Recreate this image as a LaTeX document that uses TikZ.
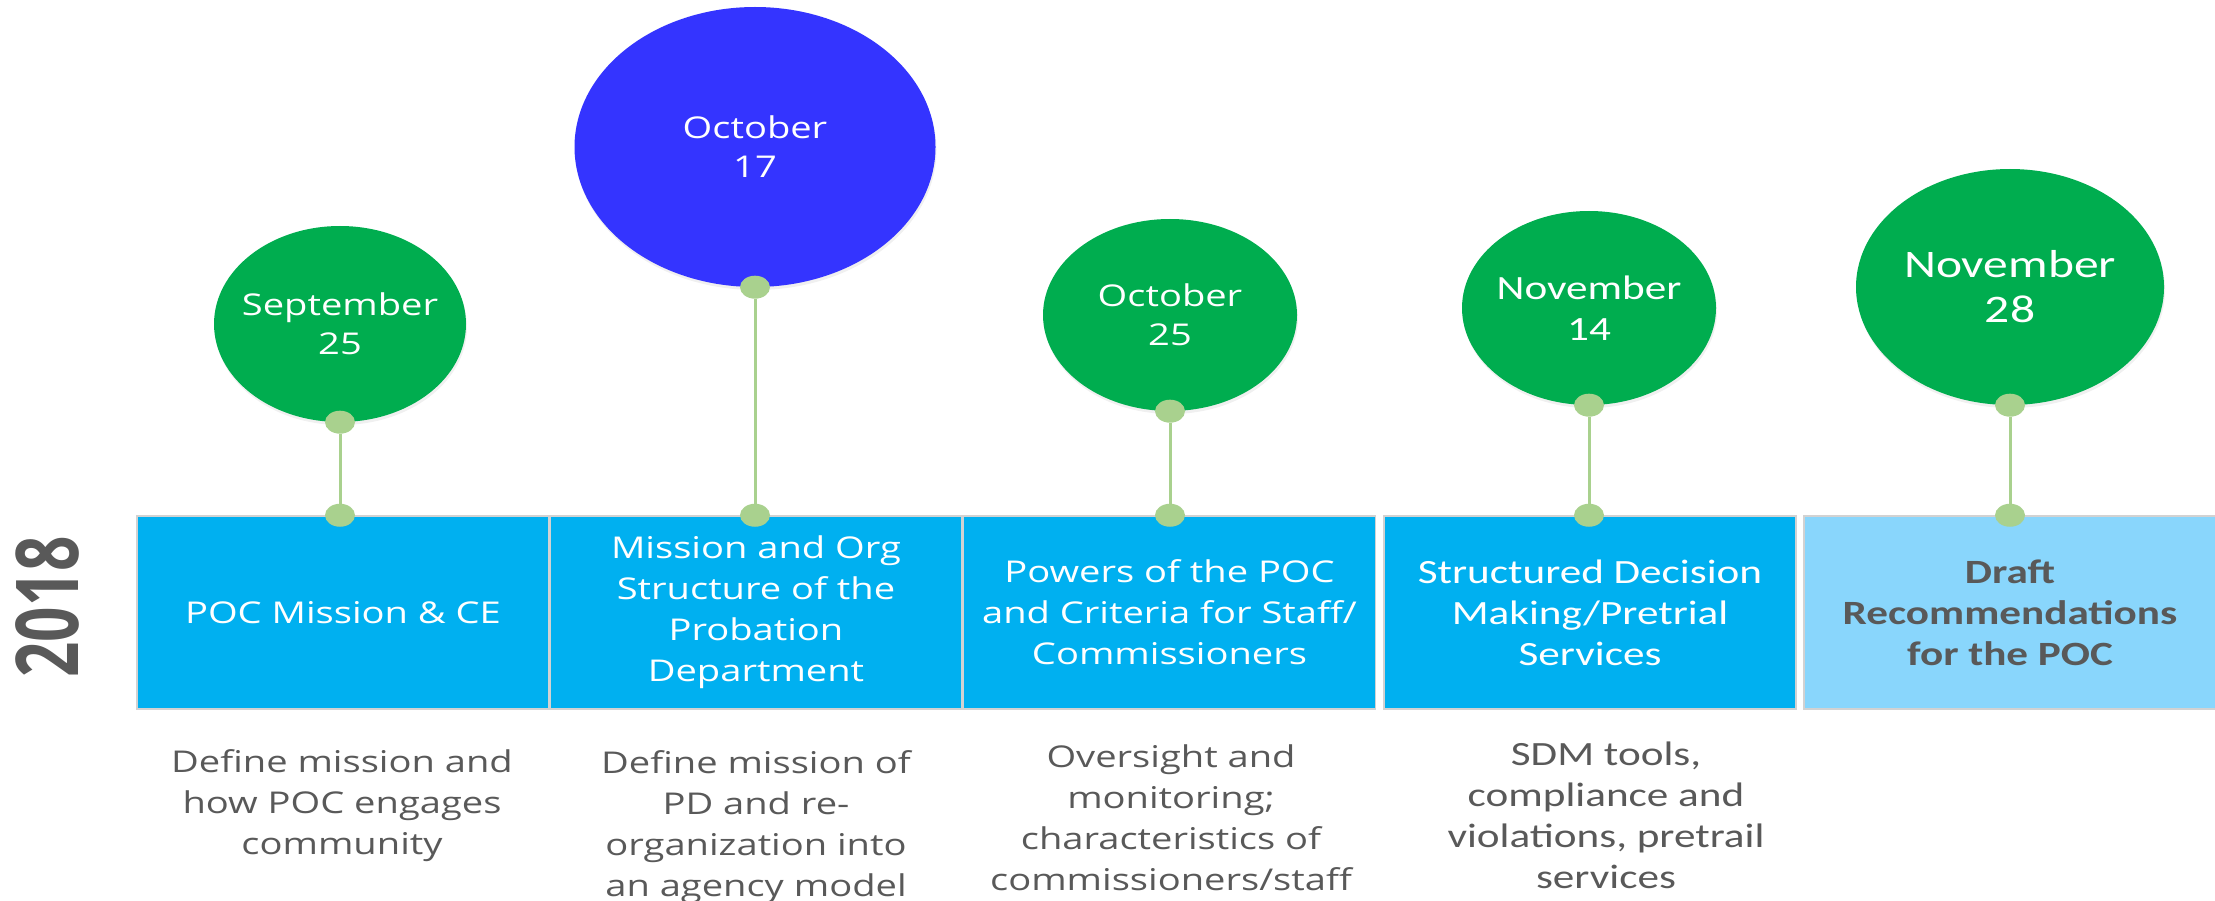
\documentclass[tikz,border=0pt]{standalone}
\usepackage{fontspec}
\usepackage{xcolor}
\usepackage{tikz}
\usetikzlibrary{shapes,positioning,calc,shadows}
\newfontfamily\osfont{Open Sans}[FakeStretch=1.27]
\newfontfamily\cbfont{Carlito}[FakeStretch=1.27]
\newfontfamily\yearfont{Open Sans}
\definecolor{dategreen}{HTML}{00AD4F}
\definecolor{dateblue}{HTML}{3434FF}
\definecolor{topicblue}{HTML}{00B0F0}
\definecolor{draftblue}{HTML}{89D6FC}
\definecolor{pingreen}{HTML}{A9D18E}
\definecolor{textgray}{HTML}{595959}
\tikzstyle{date} = [ellipse, fill=dategreen, inner sep=0pt, drop shadow={shadow xshift=1pt, shadow yshift=-3pt, opacity=0.12}]
\tikzstyle{datetext} = [text=white, align=center, font=\osfont\fontsize{30}{39}\selectfont]
\tikzstyle{topic} = [rectangle, fill=topicblue, draw=gray!35, line width=1.5pt, text=white, align=center, minimum width=412pt, minimum height=193pt, inner sep=0pt, font=\osfont\fontsize{30}{41}\selectfont]
\tikzstyle{note} = [align=center, text=textgray, font=\osfont\fontsize{30}{41}\selectfont]
\tikzstyle{cb} = [font=\cbfont\fontsize{34}{41}\selectfont]
\tikzstyle{pin} = [ellipse, fill=pingreen, minimum width=30pt, minimum height=23pt, inner sep=0pt]
\tikzstyle{stem} = [draw=pingreen, line width=3pt]

\begin{document}
\begin{tikzpicture}[x=1pt, y=-1pt]
    \useasboundingbox (0,0) rectangle (2215,901);
    % Year
    \node[rotate=90, text=textgray] (year) at (47,607) {\scalebox{1}[1.4]{\yearfont\bfseries\fontsize{62}{62}\selectfont 2018}};

    % Topics
    \node[topic] (poc) at (343,612.5) {POC Mission \& CE};
    \node[topic] (org) at (756,612.5) {Mission and Org\\Structure of the\\Probation\\Department};
    \node[topic] (powers) at (1169.5,612.5) {Powers of the POC\\and Criteria for Staff/\\Commissioners};
    \node[topic, cb] (sdm) at (1590,612.5) {Structured Decision\\Making/Pretrial\\Services};
    \node[topic, cb, fill=draftblue, text=textgray] (draft) at (2010,612.5) {\bfseries Draft\\\bfseries Recommendations\\\bfseries for the POC};

    % Dates
    \node[date, minimum width=252pt, minimum height=196pt, label={[datetext]center:{September\\25}}] (sep25) at (340,324) {};
    \node[date, fill=dateblue, minimum width=361pt, minimum height=280pt, label={[datetext]center:{October\\17}}] (oct17) at (755,147) {};
    \node[date, minimum width=254pt, minimum height=192pt, label={[datetext]center:{October\\25}}] (oct25) at (1170,315) {};
    \node[date, minimum width=254pt, minimum height=194pt, label={[datetext, cb]center:{November\\14}}] (nov14) at (1589,308) {};
    \node[date, minimum width=308pt, minimum height=236pt, label={[datetext, font=\cbfont\fontsize{39}{45}\selectfont]center:{November\\28}}] (nov28) at (2010,287) {};

    % Pins
    \foreach \d/\t in {sep25/poc, oct17/org, oct25/powers, nov14/sdm, nov28/draft} {
        \node[pin] (\d-top) at (\d.south) {};
        \node[pin] (\d-bot) at (\d.south |- \t.north) {};
        \draw[stem] (\d-top) -- (\d-bot);
    }

    % Notes
    \node[note] (pocnote) at (342,806) {Define mission and\\how POC engages\\community};
    \node[note] (orgnote) at (756,827) {Define mission of\\PD and re-\\organization into\\an agency model};
    \node[note] (powersnote) at (1171,818) {Oversight and\\monitoring;\\characteristics of\\commissioners/staff};
    \node[note, cb] (sdmnote) at (1606,815) {SDM tools,\\compliance and\\violations, pretrail\\services};
\end{tikzpicture}
\end{document}
